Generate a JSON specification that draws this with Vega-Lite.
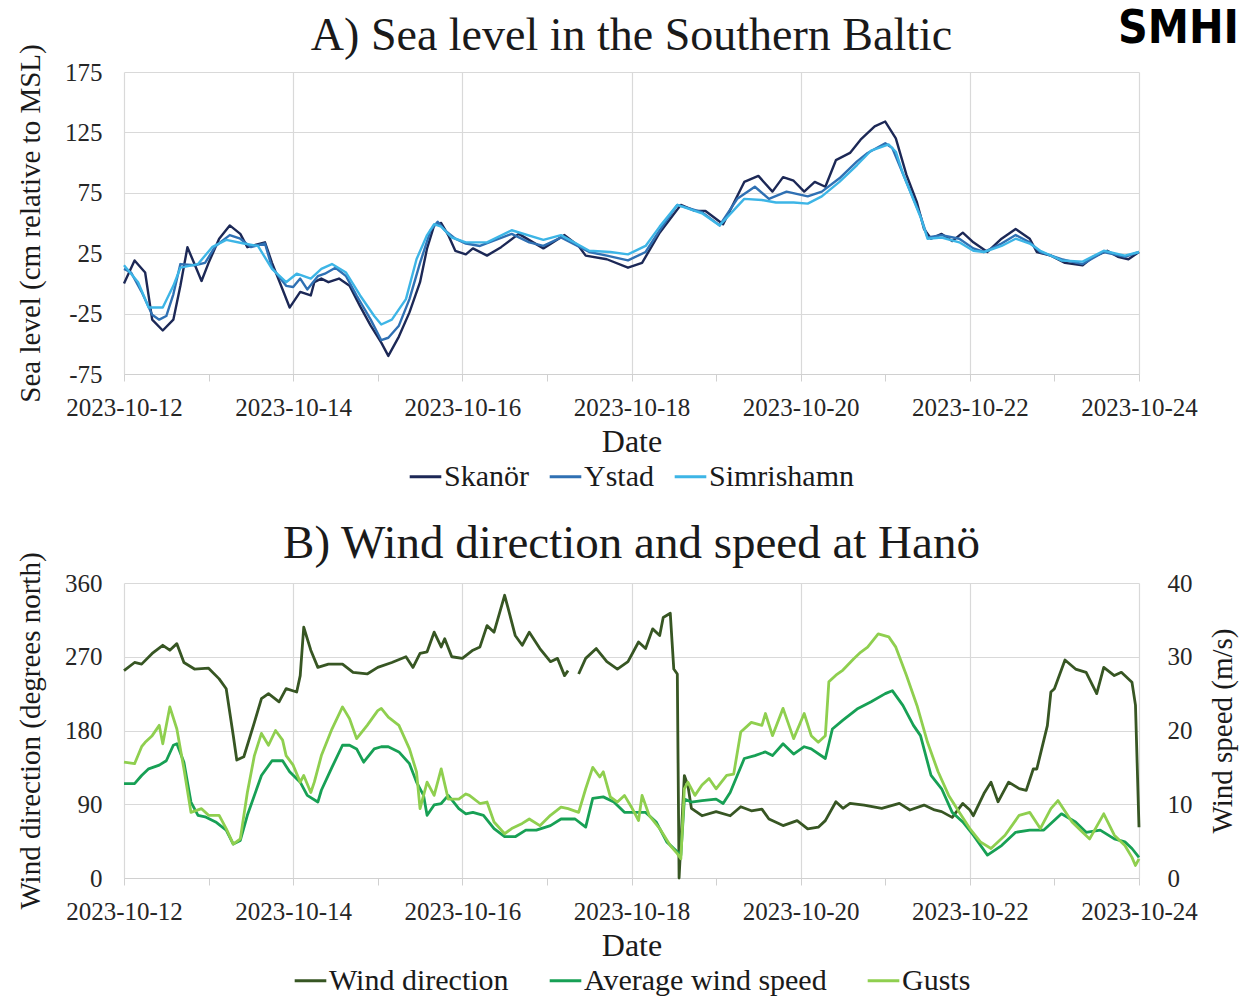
{
  "$schema": "https://vega.github.io/schema/vega-lite/v6.json",
  "background": "white",
  "padding": {"left": 16, "top": 5, "right": 2, "bottom": 0},
  "title": {"text": "SMHI", "anchor": "end", "frame": "bounds", "orient": "top", "offset": -40, "font": "DejaVu Sans Condensed, Liberation Sans Narrow, DejaVu Sans", "fontSize": 46, "fontWeight": "bold", "color": "#000000", "dx": 2, "limit": 0},
  "config": {
    "font": "Liberation Serif",
    "view": {"stroke": null},
    "axis": {
      "labelFont": "Liberation Serif", "titleFont": "Liberation Serif",
      "labelFontSize": 25, "titleFontSize": 29, "titleFontWeight": "normal",
      "labelColor": "#262626", "titleColor": "#1a1a1a",
      "gridColor": "#d9d9d9", "gridWidth": 1.2, "domainColor": "#d0d0d0", "tickColor": "#d0d0d0", "domainWidth": 1.2
    },
    "axisX": {"titleFontSize": 32},
    "legend": {
      "layout": {"bottom": {"anchor": "middle"}},
      "labelFont": "Liberation Serif", "labelFontSize": 30, "labelColor": "#1a1a1a", "labelLimit": 600,
      "symbolType": "stroke", "symbolStrokeWidth": 3, "symbolSize": 1000,
      "labelOffset": 1, "columnPadding": 14, "offset": 2
    },
    "title": {"font": "Liberation Serif", "fontSize": 46, "fontWeight": "normal", "color": "#1a1a1a", "anchor": "middle", "frame": "group", "offset": -16}
  },
  "resolve": {"scale": {"color": "independent", "x": "independent"}, "legend": {"color": "independent"}},
  "spacing": 27,
  "datasets": {
    "sea": [
      {"t":"2023-10-12T00:00","s":"Skanör","v":0},{"t":"2023-10-12T03:00","s":"Skanör","v":19},{"t":"2023-10-12T06:00","s":"Skanör","v":9},{"t":"2023-10-12T08:00","s":"Skanör","v":-30},{"t":"2023-10-12T11:00","s":"Skanör","v":-39},{"t":"2023-10-12T14:00","s":"Skanör","v":-30},{"t":"2023-10-12T16:00","s":"Skanör","v":-2},{"t":"2023-10-12T18:00","s":"Skanör","v":30},{"t":"2023-10-12T20:00","s":"Skanör","v":16},{"t":"2023-10-12T22:00","s":"Skanör","v":2},
      {"t":"2023-10-13T00:00","s":"Skanör","v":17},{"t":"2023-10-13T03:00","s":"Skanör","v":37},{"t":"2023-10-13T06:00","s":"Skanör","v":48},{"t":"2023-10-13T09:00","s":"Skanör","v":41},{"t":"2023-10-13T11:00","s":"Skanör","v":30},{"t":"2023-10-13T16:00","s":"Skanör","v":34},{"t":"2023-10-13T18:00","s":"Skanör","v":17},{"t":"2023-10-13T21:00","s":"Skanör","v":-5},{"t":"2023-10-13T23:00","s":"Skanör","v":-20},
      {"t":"2023-10-14T02:00","s":"Skanör","v":-7},{"t":"2023-10-14T05:00","s":"Skanör","v":-10},{"t":"2023-10-14T06:00","s":"Skanör","v":1},{"t":"2023-10-14T08:00","s":"Skanör","v":4},{"t":"2023-10-14T10:00","s":"Skanör","v":1},{"t":"2023-10-14T13:00","s":"Skanör","v":4},{"t":"2023-10-14T16:00","s":"Skanör","v":-2},{"t":"2023-10-14T19:00","s":"Skanör","v":-19},{"t":"2023-10-14T22:00","s":"Skanör","v":-35},
      {"t":"2023-10-15T01:00","s":"Skanör","v":-49},{"t":"2023-10-15T03:00","s":"Skanör","v":-60},{"t":"2023-10-15T06:00","s":"Skanör","v":-44},{"t":"2023-10-15T09:00","s":"Skanör","v":-24},{"t":"2023-10-15T12:00","s":"Skanör","v":1},{"t":"2023-10-15T14:00","s":"Skanör","v":29},{"t":"2023-10-15T16:00","s":"Skanör","v":48},{"t":"2023-10-15T18:00","s":"Skanör","v":50},{"t":"2023-10-15T20:00","s":"Skanör","v":40},{"t":"2023-10-15T22:00","s":"Skanör","v":27},
      {"t":"2023-10-16T01:00","s":"Skanör","v":24},{"t":"2023-10-16T03:00","s":"Skanör","v":29},{"t":"2023-10-16T07:00","s":"Skanör","v":23},{"t":"2023-10-16T11:00","s":"Skanör","v":30},{"t":"2023-10-16T16:00","s":"Skanör","v":41},{"t":"2023-10-16T23:00","s":"Skanör","v":29},
      {"t":"2023-10-17T05:00","s":"Skanör","v":40},{"t":"2023-10-17T09:00","s":"Skanör","v":31},{"t":"2023-10-17T11:00","s":"Skanör","v":23},{"t":"2023-10-17T17:00","s":"Skanör","v":20},{"t":"2023-10-17T23:00","s":"Skanör","v":13},
      {"t":"2023-10-18T03:00","s":"Skanör","v":17},{"t":"2023-10-18T08:00","s":"Skanör","v":42},{"t":"2023-10-18T14:00","s":"Skanör","v":65},{"t":"2023-10-18T18:00","s":"Skanör","v":60},{"t":"2023-10-18T21:00","s":"Skanör","v":60},
      {"t":"2023-10-19T02:00","s":"Skanör","v":49},{"t":"2023-10-19T08:00","s":"Skanör","v":84},{"t":"2023-10-19T12:00","s":"Skanör","v":89},{"t":"2023-10-19T16:00","s":"Skanör","v":76},{"t":"2023-10-19T19:00","s":"Skanör","v":88},{"t":"2023-10-19T22:00","s":"Skanör","v":85},
      {"t":"2023-10-20T01:00","s":"Skanör","v":76},{"t":"2023-10-20T04:00","s":"Skanör","v":84},{"t":"2023-10-20T07:00","s":"Skanör","v":80},{"t":"2023-10-20T10:00","s":"Skanör","v":102},{"t":"2023-10-20T14:00","s":"Skanör","v":108},{"t":"2023-10-20T17:00","s":"Skanör","v":119},{"t":"2023-10-20T21:00","s":"Skanör","v":130},
      {"t":"2023-10-21T00:00","s":"Skanör","v":134},{"t":"2023-10-21T03:00","s":"Skanör","v":120},{"t":"2023-10-21T06:00","s":"Skanör","v":90},{"t":"2023-10-21T09:00","s":"Skanör","v":67},{"t":"2023-10-21T11:00","s":"Skanör","v":45},{"t":"2023-10-21T13:00","s":"Skanör","v":37},{"t":"2023-10-21T16:00","s":"Skanör","v":41},{"t":"2023-10-21T19:00","s":"Skanör","v":35},{"t":"2023-10-21T22:00","s":"Skanör","v":42},
      {"t":"2023-10-22T01:00","s":"Skanör","v":34},{"t":"2023-10-22T05:00","s":"Skanör","v":26},{"t":"2023-10-22T09:00","s":"Skanör","v":37},{"t":"2023-10-22T13:00","s":"Skanör","v":45},{"t":"2023-10-22T17:00","s":"Skanör","v":37},{"t":"2023-10-22T19:00","s":"Skanör","v":26},{"t":"2023-10-22T23:00","s":"Skanör","v":23},
      {"t":"2023-10-23T03:00","s":"Skanör","v":17},{"t":"2023-10-23T08:00","s":"Skanör","v":15},{"t":"2023-10-23T11:00","s":"Skanör","v":22},{"t":"2023-10-23T15:00","s":"Skanör","v":27},{"t":"2023-10-23T18:00","s":"Skanör","v":22},{"t":"2023-10-23T21:00","s":"Skanör","v":20},{"t":"2023-10-24T00:00","s":"Skanör","v":26},

      {"t":"2023-10-12T00:00","s":"Ystad","v":12},{"t":"2023-10-12T02:00","s":"Ystad","v":9},{"t":"2023-10-12T05:00","s":"Ystad","v":-7},{"t":"2023-10-12T08:00","s":"Ystad","v":-26},{"t":"2023-10-12T10:00","s":"Ystad","v":-30},{"t":"2023-10-12T12:00","s":"Ystad","v":-27},{"t":"2023-10-12T14:00","s":"Ystad","v":-9},{"t":"2023-10-12T16:00","s":"Ystad","v":16},{"t":"2023-10-12T20:00","s":"Ystad","v":15},{"t":"2023-10-12T23:00","s":"Ystad","v":17},
      {"t":"2023-10-13T02:00","s":"Ystad","v":31},{"t":"2023-10-13T06:00","s":"Ystad","v":40},{"t":"2023-10-13T09:00","s":"Ystad","v":37},{"t":"2023-10-13T12:00","s":"Ystad","v":30},{"t":"2023-10-13T16:00","s":"Ystad","v":33},{"t":"2023-10-13T18:00","s":"Ystad","v":13},{"t":"2023-10-13T22:00","s":"Ystad","v":-2},
      {"t":"2023-10-14T00:00","s":"Ystad","v":-3},{"t":"2023-10-14T02:00","s":"Ystad","v":4},{"t":"2023-10-14T04:00","s":"Ystad","v":-5},{"t":"2023-10-14T07:00","s":"Ystad","v":6},{"t":"2023-10-14T09:00","s":"Ystad","v":8},{"t":"2023-10-14T12:00","s":"Ystad","v":13},{"t":"2023-10-14T15:00","s":"Ystad","v":6},{"t":"2023-10-14T18:00","s":"Ystad","v":-10},{"t":"2023-10-14T22:00","s":"Ystad","v":-30},
      {"t":"2023-10-15T01:00","s":"Ystad","v":-47},{"t":"2023-10-15T03:00","s":"Ystad","v":-45},{"t":"2023-10-15T06:00","s":"Ystad","v":-35},{"t":"2023-10-15T09:00","s":"Ystad","v":-13},{"t":"2023-10-15T12:00","s":"Ystad","v":17},{"t":"2023-10-15T15:00","s":"Ystad","v":44},{"t":"2023-10-15T17:00","s":"Ystad","v":51},{"t":"2023-10-15T19:00","s":"Ystad","v":44},{"t":"2023-10-15T22:00","s":"Ystad","v":37},
      {"t":"2023-10-16T01:00","s":"Ystad","v":33},{"t":"2023-10-16T05:00","s":"Ystad","v":31},{"t":"2023-10-16T14:00","s":"Ystad","v":41},{"t":"2023-10-16T19:00","s":"Ystad","v":34},{"t":"2023-10-16T23:00","s":"Ystad","v":31},
      {"t":"2023-10-17T04:00","s":"Ystad","v":38},{"t":"2023-10-17T12:00","s":"Ystad","v":26},{"t":"2023-10-17T17:00","s":"Ystad","v":23},{"t":"2023-10-17T23:00","s":"Ystad","v":19},
      {"t":"2023-10-18T04:00","s":"Ystad","v":26},{"t":"2023-10-18T08:00","s":"Ystad","v":44},{"t":"2023-10-18T13:00","s":"Ystad","v":65},{"t":"2023-10-18T20:00","s":"Ystad","v":59},
      {"t":"2023-10-19T01:00","s":"Ystad","v":48},{"t":"2023-10-19T06:00","s":"Ystad","v":70},{"t":"2023-10-19T11:00","s":"Ystad","v":80},{"t":"2023-10-19T15:00","s":"Ystad","v":70},{"t":"2023-10-19T20:00","s":"Ystad","v":76},
      {"t":"2023-10-20T02:00","s":"Ystad","v":72},{"t":"2023-10-20T06:00","s":"Ystad","v":76},{"t":"2023-10-20T11:00","s":"Ystad","v":87},{"t":"2023-10-20T16:00","s":"Ystad","v":101},{"t":"2023-10-20T19:00","s":"Ystad","v":108},
      {"t":"2023-10-21T00:00","s":"Ystad","v":116},{"t":"2023-10-21T02:00","s":"Ystad","v":112},{"t":"2023-10-21T04:00","s":"Ystad","v":98},{"t":"2023-10-21T06:00","s":"Ystad","v":84},{"t":"2023-10-21T10:00","s":"Ystad","v":56},{"t":"2023-10-21T12:00","s":"Ystad","v":38},{"t":"2023-10-21T16:00","s":"Ystad","v":40},{"t":"2023-10-21T21:00","s":"Ystad","v":37},
      {"t":"2023-10-22T01:00","s":"Ystad","v":29},{"t":"2023-10-22T04:00","s":"Ystad","v":26},{"t":"2023-10-22T09:00","s":"Ystad","v":33},{"t":"2023-10-22T13:00","s":"Ystad","v":40},{"t":"2023-10-22T17:00","s":"Ystad","v":34},{"t":"2023-10-22T20:00","s":"Ystad","v":26},
      {"t":"2023-10-23T02:00","s":"Ystad","v":20},{"t":"2023-10-23T08:00","s":"Ystad","v":16},{"t":"2023-10-23T14:00","s":"Ystad","v":26},{"t":"2023-10-23T20:00","s":"Ystad","v":22},{"t":"2023-10-24T00:00","s":"Ystad","v":26},

      {"t":"2023-10-12T00:00","s":"Simrishamn","v":15},{"t":"2023-10-12T04:00","s":"Simrishamn","v":1},{"t":"2023-10-12T07:00","s":"Simrishamn","v":-20},{"t":"2023-10-12T11:00","s":"Simrishamn","v":-20},{"t":"2023-10-12T14:00","s":"Simrishamn","v":-2},{"t":"2023-10-12T16:00","s":"Simrishamn","v":13},{"t":"2023-10-12T21:00","s":"Simrishamn","v":16},
      {"t":"2023-10-13T01:00","s":"Simrishamn","v":30},{"t":"2023-10-13T05:00","s":"Simrishamn","v":36},{"t":"2023-10-13T10:00","s":"Simrishamn","v":33},{"t":"2023-10-13T14:00","s":"Simrishamn","v":31},{"t":"2023-10-13T18:00","s":"Simrishamn","v":12},{"t":"2023-10-13T22:00","s":"Simrishamn","v":1},
      {"t":"2023-10-14T01:00","s":"Simrishamn","v":8},{"t":"2023-10-14T05:00","s":"Simrishamn","v":4},{"t":"2023-10-14T08:00","s":"Simrishamn","v":12},{"t":"2023-10-14T11:00","s":"Simrishamn","v":16},{"t":"2023-10-14T15:00","s":"Simrishamn","v":9},{"t":"2023-10-14T19:00","s":"Simrishamn","v":-10},{"t":"2023-10-14T23:00","s":"Simrishamn","v":-27},
      {"t":"2023-10-15T01:00","s":"Simrishamn","v":-34},{"t":"2023-10-15T04:00","s":"Simrishamn","v":-30},{"t":"2023-10-15T08:00","s":"Simrishamn","v":-13},{"t":"2023-10-15T11:00","s":"Simrishamn","v":20},{"t":"2023-10-15T14:00","s":"Simrishamn","v":40},{"t":"2023-10-15T16:00","s":"Simrishamn","v":49},{"t":"2023-10-15T18:00","s":"Simrishamn","v":47},{"t":"2023-10-15T21:00","s":"Simrishamn","v":38},
      {"t":"2023-10-16T01:00","s":"Simrishamn","v":34},{"t":"2023-10-16T07:00","s":"Simrishamn","v":34},{"t":"2023-10-16T14:00","s":"Simrishamn","v":44},{"t":"2023-10-16T23:00","s":"Simrishamn","v":36},
      {"t":"2023-10-17T04:00","s":"Simrishamn","v":40},{"t":"2023-10-17T12:00","s":"Simrishamn","v":27},{"t":"2023-10-17T18:00","s":"Simrishamn","v":26},{"t":"2023-10-17T23:00","s":"Simrishamn","v":24},
      {"t":"2023-10-18T04:00","s":"Simrishamn","v":31},{"t":"2023-10-18T08:00","s":"Simrishamn","v":47},{"t":"2023-10-18T13:00","s":"Simrishamn","v":65},{"t":"2023-10-18T20:00","s":"Simrishamn","v":58},
      {"t":"2023-10-19T01:00","s":"Simrishamn","v":48},{"t":"2023-10-19T08:00","s":"Simrishamn","v":70},{"t":"2023-10-19T13:00","s":"Simrishamn","v":69},{"t":"2023-10-19T17:00","s":"Simrishamn","v":67},{"t":"2023-10-19T22:00","s":"Simrishamn","v":67},
      {"t":"2023-10-20T02:00","s":"Simrishamn","v":66},{"t":"2023-10-20T06:00","s":"Simrishamn","v":72},{"t":"2023-10-20T11:00","s":"Simrishamn","v":84},{"t":"2023-10-20T16:00","s":"Simrishamn","v":98},{"t":"2023-10-20T20:00","s":"Simrishamn","v":110},
      {"t":"2023-10-21T01:00","s":"Simrishamn","v":115},{"t":"2023-10-21T03:00","s":"Simrishamn","v":109},{"t":"2023-10-21T05:00","s":"Simrishamn","v":91},{"t":"2023-10-21T10:00","s":"Simrishamn","v":55},{"t":"2023-10-21T12:00","s":"Simrishamn","v":37},{"t":"2023-10-21T16:00","s":"Simrishamn","v":38},{"t":"2023-10-21T21:00","s":"Simrishamn","v":34},
      {"t":"2023-10-22T01:00","s":"Simrishamn","v":27},{"t":"2023-10-22T04:00","s":"Simrishamn","v":26},{"t":"2023-10-22T09:00","s":"Simrishamn","v":31},{"t":"2023-10-22T13:00","s":"Simrishamn","v":37},{"t":"2023-10-22T17:00","s":"Simrishamn","v":33},{"t":"2023-10-22T20:00","s":"Simrishamn","v":27},
      {"t":"2023-10-23T02:00","s":"Simrishamn","v":19},{"t":"2023-10-23T08:00","s":"Simrishamn","v":18},{"t":"2023-10-23T14:00","s":"Simrishamn","v":27},{"t":"2023-10-23T20:00","s":"Simrishamn","v":23},{"t":"2023-10-24T00:00","s":"Simrishamn","v":26}
    ],
    "wind": [
      {"t":"2023-10-12T00:00","s":"Wind direction","v":253},{"t":"2023-10-12T03:00","s":"Wind direction","v":263},{"t":"2023-10-12T05:00","s":"Wind direction","v":261},{"t":"2023-10-12T08:00","s":"Wind direction","v":274},{"t":"2023-10-12T11:00","s":"Wind direction","v":284},{"t":"2023-10-12T13:00","s":"Wind direction","v":278},{"t":"2023-10-12T15:00","s":"Wind direction","v":286},{"t":"2023-10-12T17:00","s":"Wind direction","v":263},{"t":"2023-10-12T20:00","s":"Wind direction","v":255},
      {"t":"2023-10-13T00:00","s":"Wind direction","v":256},{"t":"2023-10-13T03:00","s":"Wind direction","v":243},{"t":"2023-10-13T05:00","s":"Wind direction","v":231},{"t":"2023-10-13T07:00","s":"Wind direction","v":174},{"t":"2023-10-13T08:00","s":"Wind direction","v":144},{"t":"2023-10-13T10:00","s":"Wind direction","v":148},{"t":"2023-10-13T13:00","s":"Wind direction","v":190},{"t":"2023-10-13T15:00","s":"Wind direction","v":219},{"t":"2023-10-13T17:00","s":"Wind direction","v":225},{"t":"2023-10-13T20:00","s":"Wind direction","v":215},{"t":"2023-10-13T22:00","s":"Wind direction","v":231},
      {"t":"2023-10-14T01:00","s":"Wind direction","v":227},{"t":"2023-10-14T02:00","s":"Wind direction","v":247},{"t":"2023-10-14T03:00","s":"Wind direction","v":306},{"t":"2023-10-14T05:00","s":"Wind direction","v":278},{"t":"2023-10-14T07:00","s":"Wind direction","v":257},{"t":"2023-10-14T10:00","s":"Wind direction","v":261},{"t":"2023-10-14T14:00","s":"Wind direction","v":261},{"t":"2023-10-14T17:00","s":"Wind direction","v":251},{"t":"2023-10-14T21:00","s":"Wind direction","v":249},
      {"t":"2023-10-15T00:00","s":"Wind direction","v":257},{"t":"2023-10-15T04:00","s":"Wind direction","v":263},{"t":"2023-10-15T08:00","s":"Wind direction","v":270},{"t":"2023-10-15T10:00","s":"Wind direction","v":257},{"t":"2023-10-15T12:00","s":"Wind direction","v":274},{"t":"2023-10-15T14:00","s":"Wind direction","v":276},{"t":"2023-10-15T16:00","s":"Wind direction","v":300},{"t":"2023-10-15T18:00","s":"Wind direction","v":282},{"t":"2023-10-15T19:00","s":"Wind direction","v":292},{"t":"2023-10-15T21:00","s":"Wind direction","v":270},
      {"t":"2023-10-16T00:00","s":"Wind direction","v":268},{"t":"2023-10-16T03:00","s":"Wind direction","v":278},{"t":"2023-10-16T05:00","s":"Wind direction","v":282},{"t":"2023-10-16T07:00","s":"Wind direction","v":308},{"t":"2023-10-16T09:00","s":"Wind direction","v":300},{"t":"2023-10-16T12:00","s":"Wind direction","v":345},{"t":"2023-10-16T13:00","s":"Wind direction","v":329},{"t":"2023-10-16T15:00","s":"Wind direction","v":296},{"t":"2023-10-16T17:00","s":"Wind direction","v":284},{"t":"2023-10-16T19:00","s":"Wind direction","v":300},{"t":"2023-10-16T22:00","s":"Wind direction","v":280},
      {"t":"2023-10-17T01:00","s":"Wind direction","v":264},{"t":"2023-10-17T03:00","s":"Wind direction","v":268},{"t":"2023-10-17T05:00","s":"Wind direction","v":247},{"t":"2023-10-17T06:00","s":"Wind direction","v":253},{"t":"2023-10-17T07:30","s":"Wind direction","v":null},{"t":"2023-10-17T09:00","s":"Wind direction","v":249},{"t":"2023-10-17T11:00","s":"Wind direction","v":268},{"t":"2023-10-17T14:00","s":"Wind direction","v":280},{"t":"2023-10-17T17:00","s":"Wind direction","v":264},{"t":"2023-10-17T20:00","s":"Wind direction","v":255},{"t":"2023-10-17T23:00","s":"Wind direction","v":264},
      {"t":"2023-10-18T02:00","s":"Wind direction","v":288},{"t":"2023-10-18T04:00","s":"Wind direction","v":280},{"t":"2023-10-18T06:00","s":"Wind direction","v":304},{"t":"2023-10-18T08:00","s":"Wind direction","v":296},{"t":"2023-10-18T09:00","s":"Wind direction","v":318},{"t":"2023-10-18T11:00","s":"Wind direction","v":323},{"t":"2023-10-18T12:00","s":"Wind direction","v":255},{"t":"2023-10-18T13:00","s":"Wind direction","v":249},{"t":"2023-10-18T13:30","s":"Wind direction","v":0},{"t":"2023-10-18T15:00","s":"Wind direction","v":125},{"t":"2023-10-18T16:00","s":"Wind direction","v":113},{"t":"2023-10-18T17:00","s":"Wind direction","v":85},{"t":"2023-10-18T20:00","s":"Wind direction","v":76},
      {"t":"2023-10-19T00:00","s":"Wind direction","v":81},{"t":"2023-10-19T04:00","s":"Wind direction","v":76},{"t":"2023-10-19T07:00","s":"Wind direction","v":87},{"t":"2023-10-19T10:00","s":"Wind direction","v":82},{"t":"2023-10-19T13:00","s":"Wind direction","v":84},{"t":"2023-10-19T15:00","s":"Wind direction","v":72},{"t":"2023-10-19T19:00","s":"Wind direction","v":64},{"t":"2023-10-19T23:00","s":"Wind direction","v":70},
      {"t":"2023-10-20T02:00","s":"Wind direction","v":60},{"t":"2023-10-20T05:00","s":"Wind direction","v":62},{"t":"2023-10-20T07:00","s":"Wind direction","v":70},{"t":"2023-10-20T10:00","s":"Wind direction","v":93},{"t":"2023-10-20T12:00","s":"Wind direction","v":85},{"t":"2023-10-20T14:00","s":"Wind direction","v":91},{"t":"2023-10-20T18:00","s":"Wind direction","v":89},{"t":"2023-10-20T23:00","s":"Wind direction","v":85},
      {"t":"2023-10-21T04:00","s":"Wind direction","v":91},{"t":"2023-10-21T07:00","s":"Wind direction","v":83},{"t":"2023-10-21T11:00","s":"Wind direction","v":89},{"t":"2023-10-21T14:00","s":"Wind direction","v":83},{"t":"2023-10-21T16:00","s":"Wind direction","v":81},{"t":"2023-10-21T19:00","s":"Wind direction","v":74},{"t":"2023-10-21T22:00","s":"Wind direction","v":91},
      {"t":"2023-10-22T00:00","s":"Wind direction","v":83},{"t":"2023-10-22T01:00","s":"Wind direction","v":76},{"t":"2023-10-22T04:00","s":"Wind direction","v":103},{"t":"2023-10-22T06:00","s":"Wind direction","v":117},{"t":"2023-10-22T08:00","s":"Wind direction","v":93},{"t":"2023-10-22T11:00","s":"Wind direction","v":117},{"t":"2023-10-22T14:00","s":"Wind direction","v":109},{"t":"2023-10-22T16:00","s":"Wind direction","v":107},{"t":"2023-10-22T18:00","s":"Wind direction","v":133},{"t":"2023-10-22T19:00","s":"Wind direction","v":133},{"t":"2023-10-22T22:00","s":"Wind direction","v":186},{"t":"2023-10-22T23:00","s":"Wind direction","v":227},
      {"t":"2023-10-23T00:00","s":"Wind direction","v":231},{"t":"2023-10-23T03:00","s":"Wind direction","v":266},{"t":"2023-10-23T06:00","s":"Wind direction","v":255},{"t":"2023-10-23T09:00","s":"Wind direction","v":251},{"t":"2023-10-23T12:00","s":"Wind direction","v":225},{"t":"2023-10-23T14:00","s":"Wind direction","v":257},{"t":"2023-10-23T17:00","s":"Wind direction","v":247},{"t":"2023-10-23T19:00","s":"Wind direction","v":251},{"t":"2023-10-23T22:00","s":"Wind direction","v":239},{"t":"2023-10-23T23:00","s":"Wind direction","v":211},{"t":"2023-10-24T00:00","s":"Wind direction","v":62},

      {"t":"2023-10-12T00:00","s":"Average wind speed","v":12.8},{"t":"2023-10-12T03:00","s":"Average wind speed","v":12.8},{"t":"2023-10-12T05:00","s":"Average wind speed","v":13.9},{"t":"2023-10-12T07:00","s":"Average wind speed","v":14.8},{"t":"2023-10-12T10:00","s":"Average wind speed","v":15.3},{"t":"2023-10-12T12:00","s":"Average wind speed","v":15.9},{"t":"2023-10-12T14:00","s":"Average wind speed","v":18},{"t":"2023-10-12T15:00","s":"Average wind speed","v":18.2},{"t":"2023-10-12T17:00","s":"Average wind speed","v":15.7},{"t":"2023-10-12T19:00","s":"Average wind speed","v":10.3},{"t":"2023-10-12T21:00","s":"Average wind speed","v":8.5},{"t":"2023-10-12T23:00","s":"Average wind speed","v":8.3},
      {"t":"2023-10-13T02:00","s":"Average wind speed","v":7.6},{"t":"2023-10-13T05:00","s":"Average wind speed","v":6.5},{"t":"2023-10-13T07:00","s":"Average wind speed","v":4.6},{"t":"2023-10-13T09:00","s":"Average wind speed","v":5.1},{"t":"2023-10-13T11:00","s":"Average wind speed","v":8.5},{"t":"2023-10-13T13:00","s":"Average wind speed","v":11.2},{"t":"2023-10-13T15:00","s":"Average wind speed","v":13.9},{"t":"2023-10-13T18:00","s":"Average wind speed","v":15.9},{"t":"2023-10-13T21:00","s":"Average wind speed","v":15.9},{"t":"2023-10-13T23:00","s":"Average wind speed","v":14.4},
      {"t":"2023-10-14T02:00","s":"Average wind speed","v":13},{"t":"2023-10-14T04:00","s":"Average wind speed","v":11.2},{"t":"2023-10-14T07:00","s":"Average wind speed","v":10.3},{"t":"2023-10-14T08:00","s":"Average wind speed","v":11.9},{"t":"2023-10-14T11:00","s":"Average wind speed","v":15},{"t":"2023-10-14T14:00","s":"Average wind speed","v":18},{"t":"2023-10-14T16:00","s":"Average wind speed","v":18},{"t":"2023-10-14T18:00","s":"Average wind speed","v":17.5},{"t":"2023-10-14T20:00","s":"Average wind speed","v":15.7},{"t":"2023-10-14T23:00","s":"Average wind speed","v":17.5},
      {"t":"2023-10-15T01:00","s":"Average wind speed","v":17.8},{"t":"2023-10-15T03:00","s":"Average wind speed","v":17.8},{"t":"2023-10-15T06:00","s":"Average wind speed","v":17.1},{"t":"2023-10-15T09:00","s":"Average wind speed","v":15.5},{"t":"2023-10-15T11:00","s":"Average wind speed","v":13},{"t":"2023-10-15T13:00","s":"Average wind speed","v":11.2},{"t":"2023-10-15T14:00","s":"Average wind speed","v":8.5},{"t":"2023-10-15T16:00","s":"Average wind speed","v":9.9},{"t":"2023-10-15T18:00","s":"Average wind speed","v":10.1},{"t":"2023-10-15T20:00","s":"Average wind speed","v":11.2},{"t":"2023-10-15T23:00","s":"Average wind speed","v":9.4},
      {"t":"2023-10-16T01:00","s":"Average wind speed","v":8.7},{"t":"2023-10-16T03:00","s":"Average wind speed","v":8.9},{"t":"2023-10-16T06:00","s":"Average wind speed","v":8.5},{"t":"2023-10-16T09:00","s":"Average wind speed","v":6.7},{"t":"2023-10-16T12:00","s":"Average wind speed","v":5.6},{"t":"2023-10-16T15:00","s":"Average wind speed","v":5.6},{"t":"2023-10-16T18:00","s":"Average wind speed","v":6.5},{"t":"2023-10-16T21:00","s":"Average wind speed","v":6.5},
      {"t":"2023-10-17T01:00","s":"Average wind speed","v":7.1},{"t":"2023-10-17T04:00","s":"Average wind speed","v":8},{"t":"2023-10-17T08:00","s":"Average wind speed","v":8},{"t":"2023-10-17T11:00","s":"Average wind speed","v":6.9},{"t":"2023-10-17T13:00","s":"Average wind speed","v":10.8},{"t":"2023-10-17T16:00","s":"Average wind speed","v":11},{"t":"2023-10-17T19:00","s":"Average wind speed","v":10.3},{"t":"2023-10-17T22:00","s":"Average wind speed","v":8.9},
      {"t":"2023-10-18T02:00","s":"Average wind speed","v":8.9},{"t":"2023-10-18T04:00","s":"Average wind speed","v":8.9},{"t":"2023-10-18T07:00","s":"Average wind speed","v":7.6},{"t":"2023-10-18T10:00","s":"Average wind speed","v":4.9},{"t":"2023-10-18T12:00","s":"Average wind speed","v":4},{"t":"2023-10-18T14:00","s":"Average wind speed","v":3.1},{"t":"2023-10-18T15:00","s":"Average wind speed","v":10.7},{"t":"2023-10-18T17:00","s":"Average wind speed","v":10.3},{"t":"2023-10-18T20:00","s":"Average wind speed","v":10.5},
      {"t":"2023-10-19T00:00","s":"Average wind speed","v":10.7},{"t":"2023-10-19T02:00","s":"Average wind speed","v":10.1},{"t":"2023-10-19T04:00","s":"Average wind speed","v":11.6},{"t":"2023-10-19T06:00","s":"Average wind speed","v":13.9},{"t":"2023-10-19T08:00","s":"Average wind speed","v":16.2},{"t":"2023-10-19T11:00","s":"Average wind speed","v":16.6},{"t":"2023-10-19T14:00","s":"Average wind speed","v":17.1},{"t":"2023-10-19T16:00","s":"Average wind speed","v":16.6},{"t":"2023-10-19T19:00","s":"Average wind speed","v":18.2},{"t":"2023-10-19T22:00","s":"Average wind speed","v":16.8},
      {"t":"2023-10-20T01:00","s":"Average wind speed","v":17.8},{"t":"2023-10-20T03:00","s":"Average wind speed","v":17.5},{"t":"2023-10-20T07:00","s":"Average wind speed","v":16.2},{"t":"2023-10-20T09:00","s":"Average wind speed","v":20.2},{"t":"2023-10-20T12:00","s":"Average wind speed","v":21.4},{"t":"2023-10-20T16:00","s":"Average wind speed","v":22.9},{"t":"2023-10-20T20:00","s":"Average wind speed","v":23.9},
      {"t":"2023-10-21T00:00","s":"Average wind speed","v":25},{"t":"2023-10-21T02:00","s":"Average wind speed","v":25.4},{"t":"2023-10-21T05:00","s":"Average wind speed","v":23.4},{"t":"2023-10-21T08:00","s":"Average wind speed","v":20.7},{"t":"2023-10-21T10:00","s":"Average wind speed","v":19.3},{"t":"2023-10-21T13:00","s":"Average wind speed","v":13.9},{"t":"2023-10-21T16:00","s":"Average wind speed","v":12.1},{"t":"2023-10-21T19:00","s":"Average wind speed","v":8.9},{"t":"2023-10-21T22:00","s":"Average wind speed","v":7.6},
      {"t":"2023-10-22T01:00","s":"Average wind speed","v":5.8},{"t":"2023-10-22T05:00","s":"Average wind speed","v":3.1},{"t":"2023-10-22T09:00","s":"Average wind speed","v":4.4},{"t":"2023-10-22T13:00","s":"Average wind speed","v":6.2},{"t":"2023-10-22T17:00","s":"Average wind speed","v":6.5},{"t":"2023-10-22T21:00","s":"Average wind speed","v":6.5},
      {"t":"2023-10-23T02:00","s":"Average wind speed","v":8.7},{"t":"2023-10-23T06:00","s":"Average wind speed","v":7.6},{"t":"2023-10-23T09:00","s":"Average wind speed","v":6.2},{"t":"2023-10-23T13:00","s":"Average wind speed","v":6.5},{"t":"2023-10-23T17:00","s":"Average wind speed","v":5.3},{"t":"2023-10-23T20:00","s":"Average wind speed","v":4.9},{"t":"2023-10-23T22:00","s":"Average wind speed","v":4},{"t":"2023-10-24T00:00","s":"Average wind speed","v":2.8},

      {"t":"2023-10-12T00:00","s":"Gusts","v":15.7},{"t":"2023-10-12T03:00","s":"Gusts","v":15.5},{"t":"2023-10-12T05:00","s":"Gusts","v":17.8},{"t":"2023-10-12T06:00","s":"Gusts","v":18.4},{"t":"2023-10-12T08:00","s":"Gusts","v":19.3},{"t":"2023-10-12T10:00","s":"Gusts","v":20.7},{"t":"2023-10-12T11:00","s":"Gusts","v":18.2},{"t":"2023-10-12T13:00","s":"Gusts","v":23.2},{"t":"2023-10-12T15:00","s":"Gusts","v":20.2},{"t":"2023-10-12T17:00","s":"Gusts","v":14.8},{"t":"2023-10-12T19:00","s":"Gusts","v":8.9},{"t":"2023-10-12T22:00","s":"Gusts","v":9.4},
      {"t":"2023-10-13T00:00","s":"Gusts","v":8.5},{"t":"2023-10-13T03:00","s":"Gusts","v":8.5},{"t":"2023-10-13T05:00","s":"Gusts","v":6.7},{"t":"2023-10-13T07:00","s":"Gusts","v":4.6},{"t":"2023-10-13T09:00","s":"Gusts","v":5.3},{"t":"2023-10-13T11:00","s":"Gusts","v":11.6},{"t":"2023-10-13T13:00","s":"Gusts","v":16.6},{"t":"2023-10-13T15:00","s":"Gusts","v":19.6},{"t":"2023-10-13T17:00","s":"Gusts","v":18},{"t":"2023-10-13T19:00","s":"Gusts","v":20},{"t":"2023-10-13T21:00","s":"Gusts","v":18.7},{"t":"2023-10-13T22:00","s":"Gusts","v":16.6},
      {"t":"2023-10-14T00:00","s":"Gusts","v":15.3},{"t":"2023-10-14T02:00","s":"Gusts","v":13},{"t":"2023-10-14T03:00","s":"Gusts","v":13.9},{"t":"2023-10-14T05:00","s":"Gusts","v":11.6},{"t":"2023-10-14T06:00","s":"Gusts","v":13},{"t":"2023-10-14T08:00","s":"Gusts","v":16.6},{"t":"2023-10-14T11:00","s":"Gusts","v":20.2},{"t":"2023-10-14T14:00","s":"Gusts","v":23.2},{"t":"2023-10-14T16:00","s":"Gusts","v":21.6},{"t":"2023-10-14T18:00","s":"Gusts","v":18.9},{"t":"2023-10-14T21:00","s":"Gusts","v":20.7},
      {"t":"2023-10-15T00:00","s":"Gusts","v":22.7},{"t":"2023-10-15T01:00","s":"Gusts","v":23},{"t":"2023-10-15T03:00","s":"Gusts","v":21.8},{"t":"2023-10-15T06:00","s":"Gusts","v":20.7},{"t":"2023-10-15T09:00","s":"Gusts","v":17.5},{"t":"2023-10-15T11:00","s":"Gusts","v":14.4},{"t":"2023-10-15T12:00","s":"Gusts","v":9.4},{"t":"2023-10-15T14:00","s":"Gusts","v":13},{"t":"2023-10-15T16:00","s":"Gusts","v":11.2},{"t":"2023-10-15T18:00","s":"Gusts","v":14.8},{"t":"2023-10-15T20:00","s":"Gusts","v":10.7},{"t":"2023-10-15T23:00","s":"Gusts","v":10.7},
      {"t":"2023-10-16T01:00","s":"Gusts","v":11.4},{"t":"2023-10-16T02:00","s":"Gusts","v":11.2},{"t":"2023-10-16T05:00","s":"Gusts","v":10.1},{"t":"2023-10-16T07:00","s":"Gusts","v":10.3},{"t":"2023-10-16T09:00","s":"Gusts","v":7.6},{"t":"2023-10-16T12:00","s":"Gusts","v":6},{"t":"2023-10-16T14:00","s":"Gusts","v":6.7},{"t":"2023-10-16T17:00","s":"Gusts","v":7.4},{"t":"2023-10-16T19:00","s":"Gusts","v":8},{"t":"2023-10-16T22:00","s":"Gusts","v":7.1},
      {"t":"2023-10-17T01:00","s":"Gusts","v":8.5},{"t":"2023-10-17T04:00","s":"Gusts","v":9.6},{"t":"2023-10-17T06:00","s":"Gusts","v":9.4},{"t":"2023-10-17T09:00","s":"Gusts","v":8.9},{"t":"2023-10-17T11:00","s":"Gusts","v":12.1},{"t":"2023-10-17T13:00","s":"Gusts","v":15},{"t":"2023-10-17T15:00","s":"Gusts","v":13.7},{"t":"2023-10-17T16:00","s":"Gusts","v":14.4},{"t":"2023-10-17T18:00","s":"Gusts","v":11},{"t":"2023-10-17T20:00","s":"Gusts","v":10.3},{"t":"2023-10-17T22:00","s":"Gusts","v":11.2},
      {"t":"2023-10-18T00:00","s":"Gusts","v":9.6},{"t":"2023-10-18T02:00","s":"Gusts","v":7.8},{"t":"2023-10-18T03:00","s":"Gusts","v":11.2},{"t":"2023-10-18T05:00","s":"Gusts","v":8.5},{"t":"2023-10-18T08:00","s":"Gusts","v":6.7},{"t":"2023-10-18T11:00","s":"Gusts","v":4.4},{"t":"2023-10-18T13:00","s":"Gusts","v":3.3},{"t":"2023-10-18T14:00","s":"Gusts","v":2.6},{"t":"2023-10-18T15:00","s":"Gusts","v":12.1},{"t":"2023-10-18T16:00","s":"Gusts","v":13},{"t":"2023-10-18T18:00","s":"Gusts","v":11.2},{"t":"2023-10-18T20:00","s":"Gusts","v":12.6},{"t":"2023-10-18T22:00","s":"Gusts","v":13.5},
      {"t":"2023-10-19T00:00","s":"Gusts","v":12.1},{"t":"2023-10-19T03:00","s":"Gusts","v":13.9},{"t":"2023-10-19T05:00","s":"Gusts","v":14.1},{"t":"2023-10-19T07:00","s":"Gusts","v":19.8},{"t":"2023-10-19T10:00","s":"Gusts","v":21.1},{"t":"2023-10-19T13:00","s":"Gusts","v":20.7},{"t":"2023-10-19T14:00","s":"Gusts","v":22.3},{"t":"2023-10-19T16:00","s":"Gusts","v":19.3},{"t":"2023-10-19T19:00","s":"Gusts","v":23},{"t":"2023-10-19T22:00","s":"Gusts","v":18.9},
      {"t":"2023-10-20T01:00","s":"Gusts","v":22.3},{"t":"2023-10-20T03:00","s":"Gusts","v":19.3},{"t":"2023-10-20T05:00","s":"Gusts","v":18.4},{"t":"2023-10-20T07:00","s":"Gusts","v":19.3},{"t":"2023-10-20T08:00","s":"Gusts","v":26.6},{"t":"2023-10-20T10:00","s":"Gusts","v":27.5},{"t":"2023-10-20T12:00","s":"Gusts","v":28.2},{"t":"2023-10-20T15:00","s":"Gusts","v":29.7},{"t":"2023-10-20T17:00","s":"Gusts","v":30.6},{"t":"2023-10-20T19:00","s":"Gusts","v":31.3},{"t":"2023-10-20T22:00","s":"Gusts","v":33.1},
      {"t":"2023-10-21T01:00","s":"Gusts","v":32.7},{"t":"2023-10-21T03:00","s":"Gusts","v":31.3},{"t":"2023-10-21T06:00","s":"Gusts","v":27.5},{"t":"2023-10-21T09:00","s":"Gusts","v":23.4},{"t":"2023-10-21T12:00","s":"Gusts","v":18.4},{"t":"2023-10-21T15:00","s":"Gusts","v":14.4},{"t":"2023-10-21T18:00","s":"Gusts","v":11.2},{"t":"2023-10-21T21:00","s":"Gusts","v":8.9},
      {"t":"2023-10-22T00:00","s":"Gusts","v":6.7},{"t":"2023-10-22T03:00","s":"Gusts","v":4.9},{"t":"2023-10-22T06:00","s":"Gusts","v":4},{"t":"2023-10-22T10:00","s":"Gusts","v":5.8},{"t":"2023-10-22T14:00","s":"Gusts","v":8.5},{"t":"2023-10-22T17:00","s":"Gusts","v":8.9},{"t":"2023-10-22T20:00","s":"Gusts","v":6.7},{"t":"2023-10-22T23:00","s":"Gusts","v":9.4},
      {"t":"2023-10-23T01:00","s":"Gusts","v":10.5},{"t":"2023-10-23T05:00","s":"Gusts","v":7.6},{"t":"2023-10-23T08:00","s":"Gusts","v":6.2},{"t":"2023-10-23T10:00","s":"Gusts","v":5.3},{"t":"2023-10-23T14:00","s":"Gusts","v":8.7},{"t":"2023-10-23T17:00","s":"Gusts","v":5.8},{"t":"2023-10-23T20:00","s":"Gusts","v":4.4},{"t":"2023-10-23T22:00","s":"Gusts","v":2.8},{"t":"2023-10-23T23:00","s":"Gusts","v":1.7},{"t":"2023-10-24T00:00","s":"Gusts","v":2.6}
    ]
  },
  "vconcat": [
    {
      "width": 1015,
      "height": 302,
      "title": {"text": "A) Sea level in the Southern Baltic"},
      "data": {"name": "sea"},
      "mark": {"type": "line", "strokeWidth": 2.4, "strokeJoin": "round"},
      "encoding": {
        "x": {
          "field": "t", "type": "temporal", "title": "Date",
          "scale": {"domain": [{"year": 2023, "month": 10, "date": 12}, {"year": 2023, "month": 10, "date": 24}]},
          "axis": {
            "format": "%Y-%m-%d", "tickCount": {"interval": "day", "step": 1},
            "labelExpr": "date(datum.value) % 2 === 0 ? datum.label : ''",
            "labelOverlap": false, "labelFlush": false, "labelBound": false,
            "gridOpacity": {"condition": {"test": "date(datum.value) % 2 === 1", "value": 0}, "value": 1},
            "tickSize": 7, "labelPadding": 14, "titlePadding": 6
          }
        },
        "y": {
          "field": "v", "type": "quantitative", "title": "Sea level (cm relative to MSL)",
          "scale": {"domain": [-75, 175], "nice": false, "zero": false},
          "axis": {"values": [-75, -25, 25, 75, 125, 175], "labelExpr": "replace(datum.label, '−', '-')", "domain": false, "ticks": false, "labelPadding": 22, "titlePadding": 19}
        },
        "color": {
          "field": "s", "type": "nominal",
          "scale": {"domain": ["Skanör", "Ystad", "Simrishamn"], "range": ["#1c2856", "#2f70b3", "#3db5e6"]},
          "legend": {"orient": "bottom", "direction": "horizontal", "title": null}
        }
      }
    },
    {
      "width": 1015,
      "height": 295,
      "title": {"text": "B) Wind direction and speed at Hanö", "fontSize": 47},
      "data": {"name": "wind"},
      "encoding": {
        "x": {
          "field": "t", "type": "temporal", "title": "Date",
          "scale": {"domain": [{"year": 2023, "month": 10, "date": 12}, {"year": 2023, "month": 10, "date": 24}]},
          "axis": {
            "format": "%Y-%m-%d", "tickCount": {"interval": "day", "step": 1},
            "labelExpr": "date(datum.value) % 2 === 0 ? datum.label : ''",
            "labelOverlap": false, "labelFlush": false, "labelBound": false,
            "gridOpacity": {"condition": {"test": "date(datum.value) % 2 === 1", "value": 0}, "value": 1},
            "tickSize": 7, "labelPadding": 14, "titlePadding": 6
          }
        },
        "color": {
          "field": "s", "type": "nominal",
          "scale": {"domain": ["Wind direction", "Average wind speed", "Gusts"], "range": ["#375623", "#17a055", "#8fcf4f"]},
          "legend": {"orient": "bottom", "direction": "horizontal", "title": null, "columnPadding": 34}
        }
      },
      "layer": [
        {
          "transform": [{"filter": "datum.s === 'Wind direction'"}],
          "mark": {"type": "line", "strokeWidth": 2.8, "strokeJoin": "round", "invalid": "break-paths-show-domains"},
          "encoding": {
            "y": {
              "field": "v", "type": "quantitative", "title": "Wind direction (degrees north)",
              "scale": {"domain": [0, 360], "nice": false},
              "axis": {"values": [0, 90, 180, 270, 360], "domain": false, "ticks": false, "labelPadding": 22, "titlePadding": 19}
            }
          }
        },
        {
          "transform": [{"filter": "datum.s !== 'Wind direction'"}],
          "mark": {"type": "line", "strokeWidth": 2.8, "strokeJoin": "round"},
          "encoding": {
            "y": {
              "field": "v", "type": "quantitative", "title": "Wind speed (m/s)",
              "scale": {"domain": [0, 40], "nice": false},
              "axis": {"orient": "right", "values": [0, 10, 20, 30, 40], "grid": false, "domain": false, "ticks": false, "labelPadding": 28, "titlePadding": 16, "titleAngle": 270, "titleBaseline": "top"}
            }
          }
        }
      ],
      "resolve": {"scale": {"y": "independent"}}
    }
  ]
}
